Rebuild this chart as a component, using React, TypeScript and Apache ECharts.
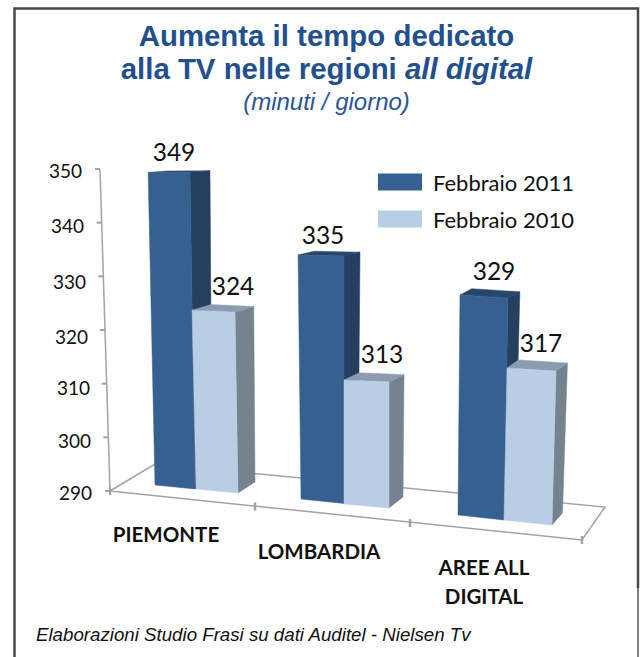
import React, { useEffect, useRef } from "react";
import * as echarts from "echarts";

const categories = ["PIEMONTE", "LOMBARDIA", "AREE ALL\nDIGITAL"];
const seriesNames = ["Febbraio 2011", "Febbraio 2010"];
const values2011 = [349, 335, 329];
const values2010 = [324, 313, 317];
const yTicks = [290, 300, 310, 320, 330, 340, 350];

const palette = [
  { front: "#36608F", side: "#243F60", top: "#28456A" },
  { front: "#B9CDE5", side: "#75838F", top: "#8B9CB1" },
];
const FLOOR = "#A3A3A3";
const SANS = "Liberation Sans, Arial, sans-serif";
const LATO = "Lato, Carlito, sans-serif";

// Perspective layout of the 3-D look, one entry per [category][series].
const barLayout = [
  [
    { bl: [155, 485], br: [195, 489], kL: 0.987, kR: 1.0, leanL: -0.022, leanR: -0.016, lab: [174, 151] },
    { bl: [196, 489], br: [238, 493], kL: 0.98, kR: 0.991, leanL: -0.022, leanR: -0.0165, lab: [233, 285] },
  ],
  [
    { bl: [301, 499], br: [344, 503.5], kL: 1.01, kR: 1.025, leanL: -0.012, leanR: 0, lab: [323, 234] },
    { bl: [344, 504], br: [389, 508], kL: 1.004, kR: 1.021, leanL: 0, leanR: 0, lab: [382, 353] },
  ],
  [
    { bl: [458, 515], br: [504, 520], kL: 1.051, kR: 1.06, leanL: 0.009, leanR: 0.018, lab: [494, 270] },
    { bl: [504, 520], br: [552, 525], kL: 1.049, kR: 1.062, leanL: 0.02, leanR: 0.026, lab: [541, 342] },
  ],
];
const depthLayout = [
  { dx0: 17, dxS: 0.0096, dy0: -11, dyS: 0.03 },
  { dx0: 14, dxS: 0.008, dy0: -11, dyS: 0.029 },
  { dx0: 10.5, dxS: 0.006, dy0: -12, dyS: 0.0255 },
];
const categoryLabelPos = [
  [166, 534],
  [319, 551],
  [484, 581],
];
const floorTicks = [
  [110, 491],
  [255, 506.5],
  [410, 523],
  [582, 540],
];
const labelShift: Record<number, number> = { 290: 0, 300: 1, 310: 2, 320: 4, 330: 6, 340: 8, 350: 10 };
const labelDrop: Record<number, number> = { 290: 3, 300: 6, 310: 8, 320: 12, 330: 11, 340: 6, 350: 2 };

function barRenderer(seriesIdx: number) {
  return (params: any, api: any) => {
    const c = params.dataIndex;
    const g = barLayout[c][seriesIdx];
    const d = depthLayout[c];
    const col = palette[seriesIdx];
    const value = api.value(1);
    const axisH = api.coord([c, 290])[1] - api.coord([c, value])[1];
    const hL = axisH * g.kL;
    const hR = axisH * g.kR;
    const tl = [g.bl[0] + g.leanL * hL, g.bl[1] - hL];
    const tr = [g.br[0] + g.leanR * hR, g.br[1] - hR];
    const dxT = d.dx0 + d.dxS * hR;
    const dyT = d.dy0 + d.dyS * hR;
    const poly = (points: number[][], fill: string) => ({
      type: "polygon",
      shape: { points },
      style: { fill, stroke: fill, lineWidth: 0.5 },
    });
    return {
      type: "group",
      children: [
        poly(
          [tr, [tr[0] + dxT, tr[1] + dyT], [g.br[0] + d.dx0, g.br[1] + d.dy0], g.br],
          col.side
        ),
        poly(
          [tl, tr, [tr[0] + dxT, tr[1] + dyT], [tl[0] + dxT, tl[1] + dyT]],
          col.top
        ),
        poly([g.bl, g.br, tr, tl], col.front),
        {
          type: "text",
          x: g.lab[0],
          y: g.lab[1],
          style: {
            text: String(value),
            fill: "#111",
            fontSize: 24.5,
            fontFamily: LATO,
            align: "center",
            verticalAlign: "middle",
          },
        },
      ],
    };
  };
}

function floorRenderer(params: any, api: any) {
  const c = params.dataIndex;
  const line = (pts: number[][], w = 1.5) => ({
    type: "polyline",
    shape: { points: pts },
    style: { stroke: FLOOR, lineWidth: w, fill: "none" },
  });
  const children: any[] = [];
  if (c === 0) {
    children.push(line([[110, 491], [582, 540], [605, 507], [155, 464], [110, 491]]));
    children.push(line([floorTicks[0].map((v, i) => v + (i ? -4 : 0)), [floorTicks[0][0], floorTicks[0][1] + 4]], 2));
  }
  const t = floorTicks[c + 1];
  children.push(line([[t[0], t[1] - 4], [t[0], t[1] + 4]], 2.5));
  const p = categoryLabelPos[c];
  children.push({
    type: "text",
    x: p[0],
    y: p[1],
    style: {
      text: categories[c],
      fill: "#111",
      fontSize: 20.5,
      fontWeight: 700,
      lineHeight: 29,
      fontFamily: LATO,
      align: "center",
      verticalAlign: "middle",
    },
  });
  return { type: "group", children };
}

function axisRenderer(params: any, api: any) {
  const v = api.value(1);
  const y = api.coord([0, v])[1];
  const top = api.coord([0, 350])[1];
  const bottom = api.coord([0, 290])[1];
  const xAt = (yy: number) => 100 + ((yy - top) / (bottom - top)) * 10;
  const children: any[] = [
    {
      type: "line",
      shape: { x1: xAt(y) - 5, y1: y, x2: xAt(y), y2: y },
      style: { stroke: FLOOR, lineWidth: 2 },
    },
  ];
  if (v === 350) {
    children.push({
      type: "line",
      shape: { x1: xAt(top), y1: top, x2: xAt(bottom), y2: bottom },
      style: { stroke: FLOOR, lineWidth: 1.5 },
    });
  }
  return { type: "group", children };
}

export default function App() {
  const ref = useRef<HTMLDivElement>(null);
  useEffect(() => {
    const chart = echarts.init(ref.current!, undefined, { renderer: "svg" });
    const rich: Record<string, any> = {};
    yTicks.forEach((t) => {
      rich["t" + t] = {
        fontSize: 19,
        fontFamily: LATO,
        color: "#111",
        padding: [labelDrop[t], labelShift[t], 0, 0],
      };
    });
    chart.setOption({
      animation: false,
      backgroundColor: "#fff",
      title: {
        text: "Aumenta il tempo dedicato\nalla TV nelle regioni {i|all digital}",
        subtext: "(minuti / giorno)",
        left: 326.5,
        top: 19,
        padding: 0,
        textAlign: "center",
        itemGap: 4,
        textStyle: {
          color: "#22508F",
          fontFamily: SANS,
          fontWeight: 700,
          fontSize: 29.4,
          lineHeight: 33,
          rich: {
            i: {
              color: "#22508F",
              fontFamily: SANS,
              fontWeight: 700,
              fontStyle: "italic",
              fontSize: 29.4,
              lineHeight: 33,
            },
          },
        },
        subtextStyle: {
          color: "#2A5599",
          fontFamily: SANS,
          fontStyle: "italic",
          fontSize: 24,
        },
      },
      legend: {
        data: seriesNames,
        orient: "vertical",
        left: 378,
        top: 171,
        padding: 0,
        itemWidth: 44,
        itemHeight: 17,
        itemGap: 15,
        icon: "rect",
        selectedMode: false,
        textStyle: {
          fontFamily: LATO,
          fontSize: 22,
          color: "#111",
          padding: [0, 0, 0, 6],
        },
      },
      grid: { left: 110, top: 169, width: 495, height: 322 },
      xAxis: { type: "category", data: categories, show: false },
      yAxis: {
        type: "value",
        min: 290,
        max: 350,
        interval: 10,
        splitLine: { show: false },
        axisLine: { show: false },
        axisTick: { show: false },
        axisLabel: {
          margin: 18,
          formatter: (v: number) => `{t${v}|${v}}`,
          rich,
        },
      },
      graphic: [
        {
          type: "polyline",
          shape: { points: [[14.5, 657], [14.5, 8.5], [638, 8.5], [638, 588]] },
          style: { stroke: "#484848", lineWidth: 2.5, fill: "none" },
        },
        {
          type: "line",
          shape: { x1: 638, y1: 588, x2: 638, y2: 657 },
          style: { stroke: "#555555", lineWidth: 1.5 },
        },
        {
          type: "text",
          x: 36,
          y: 634,
          style: {
            text: "Elaborazioni Studio Frasi su dati Auditel - Nielsen Tv",
            fill: "#111",
            fontFamily: SANS,
            fontStyle: "italic",
            fontSize: 18.7,
            verticalAlign: "middle",
          },
        },
      ],
      series: [
        {
          type: "custom",
          renderItem: axisRenderer,
          data: yTicks.map((t) => [0, t]),
          encode: { x: 0, y: 1 },
          silent: true,
        },
        {
          type: "custom",
          renderItem: floorRenderer,
          data: categories.map((_, i) => [i, 290]),
          encode: { x: 0, y: 1 },
          silent: true,
        },
        {
          name: seriesNames[0],
          type: "custom",
          renderItem: barRenderer(0),
          itemStyle: { color: palette[0].front },
          data: values2011.map((v, i) => [i, v]),
          encode: { x: 0, y: 1 },
        },
        {
          name: seriesNames[1],
          type: "custom",
          renderItem: barRenderer(1),
          itemStyle: { color: palette[1].front },
          data: values2010.map((v, i) => [i, v]),
          encode: { x: 0, y: 1 },
        },
      ],
    });
    return () => chart.dispose();
  }, []);
  return (
    <div
      ref={ref}
      style={{ position: "fixed", left: 0, top: 0, width: 643, height: 657 }}
    />
  );
}
